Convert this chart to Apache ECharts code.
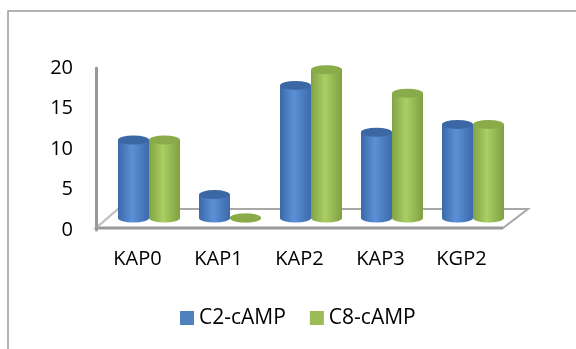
<!DOCTYPE html>
<html>
<head>
<meta charset="utf-8">
<script src="https://cdn.jsdelivr.net/npm/echarts@6/dist/echarts.min.js"></script>
<style>html,body{margin:0;padding:0;background:#fff;}#c{width:576px;height:349px;}</style>
</head>
<body>
<div id="c"></div>
<script>
var categories = ['KAP0', 'KAP1', 'KAP2', 'KAP3', 'KGP2'];
var c2cAMP = [10, 3, 17, 11, 12];
var c8cAMP = [10, 0, 19, 16, 12];
var seriesNames = ['C2-cAMP', 'C8-cAMP'];
var yTicks = { min: 0, max: 20, interval: 5 };

var FONT = '"Open Sans", "Noto Sans", sans-serif';
var grad = function (a, b, c) {
  return new echarts.graphic.LinearGradient(0, 0, 1, 0, [
    { offset: 0, color: a }, { offset: 0.45, color: b }, { offset: 1, color: c }
  ]);
};
var blueGrad = grad('#3a69a8', '#5c90d6', '#3c6aab');
var greenGrad = grad('#82a344', '#aacf63', '#809f42');

var chart = echarts.init(document.getElementById('c'), null, { renderer: 'canvas' });
chart.setOption({
  animation: false,
  backgroundColor: '#fff',
  graphic: [
    { type: 'rect', z: -10, shape: { x: 8, y: 11, width: 620, height: 400 },
      style: { fill: '#fff', stroke: '#9a9a9a', lineWidth: 1.5 } },
    { type: 'polygon', z: -5,
      shape: { points: [[96, 228], [503, 228], [528, 209], [118, 209]] },
      style: { fill: '#fff', stroke: '#a8a8a8', lineWidth: 2 } },
    { type: 'line', z: -4, shape: { x1: 96, y1: 228, x2: 503, y2: 228 },
      style: { stroke: '#999', lineWidth: 3 } },
    { type: 'line', z: -4, shape: { x1: 96, y1: 228, x2: 118, y2: 209 },
      style: { stroke: '#c8c8c8', lineWidth: 1.5 } }
  ],
  legend: {
    left: 180, top: 307, padding: 0,
    itemWidth: 14, itemHeight: 14, itemGap: 24, icon: 'rect',
    textStyle: { fontFamily: FONT, fontSize: 21, color: '#000', lineHeight: 22 },
    data: [
      { name: seriesNames[0], itemStyle: { color: '#4f81bd' } },
      { name: seriesNames[1], itemStyle: { color: '#9bbb59' } }
    ]
  },
  grid: [
    { left: 108.5, right: 62.5, top: 62, bottom: 131 },
    { left: 96, right: 62.5, top: 68, bottom: 119 }
  ],
  xAxis: [
    { type: 'category', gridIndex: 0, data: categories,
      axisLine: { show: false }, axisTick: { show: false },
      axisLabel: { margin: 31, padding: [0, 23, 0, 0], fontFamily: FONT, fontSize: 20,
        lineHeight: 21, color: '#000' } },
    { type: 'value', gridIndex: 1, show: false }
  ],
  yAxis: [
    { type: 'value', gridIndex: 0, min: yTicks.min, max: yTicks.max, interval: yTicks.interval,
      show: false, splitLine: { show: false } },
    { type: 'value', gridIndex: 1, min: yTicks.min, max: yTicks.max, interval: yTicks.interval,
      splitLine: { show: false }, axisTick: { show: false },
      axisLine: { show: true, lineStyle: { color: '#999', width: 3 } },
      axisLabel: { margin: 23, fontFamily: FONT, fontSize: 20, color: '#000' } }
  ],
  series: [
    { name: seriesNames[0], type: 'bar', data: c2cAMP, barWidth: 31, barGap: '0%', z: 2,
      itemStyle: { color: blueGrad } },
    { name: seriesNames[1], type: 'bar', data: c8cAMP, barWidth: 31, barGap: '0%', z: 2,
      itemStyle: { color: greenGrad } },
    { name: 'c2top', type: 'pictorialBar', data: c2cAMP, symbol: 'circle', symbolSize: [31, 9],
      symbolPosition: 'end', symbolOffset: ['-50%', '-50%'], z: 3, itemStyle: { color: '#3b68a4' } },
    { name: 'c8top', type: 'pictorialBar', data: c8cAMP, symbol: 'circle', symbolSize: [31, 9],
      symbolPosition: 'end', symbolOffset: ['50%', '-50%'], z: 3, itemStyle: { color: '#8aab4a' } },
    { name: 'c2bot', type: 'pictorialBar', data: c2cAMP, symbol: 'circle', symbolSize: [31, 9],
      symbolPosition: 'start', symbolOffset: ['-50%', '50%'], z: 1, itemStyle: { color: blueGrad } },
    { name: 'c8bot', type: 'pictorialBar', data: c8cAMP, symbol: 'circle', symbolSize: [31, 9],
      symbolPosition: 'start', symbolOffset: ['50%', '50%'], z: 1, itemStyle: { color: greenGrad } }
  ]
});
</script>
</body>
</html>
